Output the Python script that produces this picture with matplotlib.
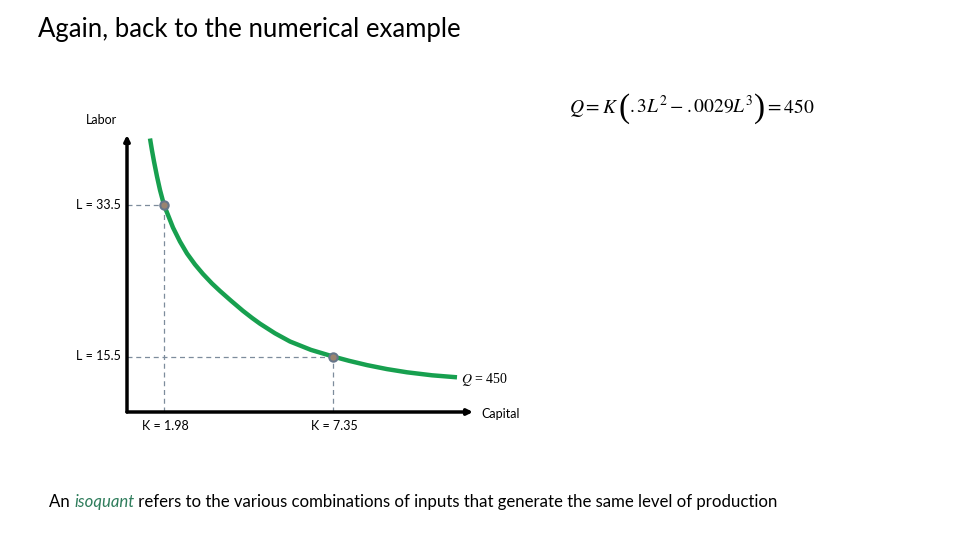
import matplotlib
matplotlib.use("Agg")
import matplotlib.pyplot as plt

plt.rcParams["mathtext.fontset"] = "stix"

# schematic isoquant Q = 450 (axis units ~ pixels from origin)
curve_x = [23, 25, 27, 30, 33, 37, 41, 46, 53, 60, 68, 76, 85, 93, 104, 116,
           125, 133, 148, 163, 184, 206, 222, 240, 260, 280, 305, 330]
curve_y = [273.5, 261.5, 250.5, 235.5, 222, 207, 197, 184.4, 170.4, 158.5, 147.5, 138,
           128.5, 121, 111.3, 101.1, 94.1, 88.3, 78.7, 70.5, 62.1, 55.5, 51.2, 46.9,
           42.9, 39.7, 36.7, 34.7]

# the two highlighted combinations
point_x = [37, 206]
point_y = [207, 55.5]
labor_labels = ["L = 33.5", "L = 15.5"]
capital_labels = ["K = 1.98", "K = 7.35"]

green = "#17a04f"
dash_col = "#7d8c9c"
label_font = "Lato"

fig = plt.figure(figsize=(9.6, 5.4), dpi=100)
ax = fig.add_axes([127 / 960, 128 / 540, 346 / 960, 277 / 540])
ax.set_xlim(0, 346)
ax.set_ylim(0, 277)
ax.axis("off")

# axes with arrow heads
ax.annotate("", xy=(346, 0), xytext=(0, 0), annotation_clip=False,
            arrowprops=dict(arrowstyle="-|>", lw=2.5, color="black",
                            mutation_scale=8, shrinkA=0, shrinkB=0))
ax.annotate("", xy=(0, 277), xytext=(0, 0), annotation_clip=False,
            arrowprops=dict(arrowstyle="-|>", lw=2.5, color="black",
                            mutation_scale=8, shrinkA=0, shrinkB=0))

# dashed guides
for px, py in zip(point_x, point_y):
    ax.plot([0, px], [py, py], ls=(0, (4, 3)), color=dash_col, lw=0.9)
    ax.plot([px, px], [0, py], ls=(0, (4, 3)), color=dash_col, lw=0.9)

ax.plot(curve_x, curve_y, color=green, lw=3.2, solid_capstyle="butt",
        solid_joinstyle="round")
ax.plot(point_x, point_y, "o", ms=6, mfc="#9a8470", mec="#66768a", mew=1.5, zorder=5)

for py, lab in zip(point_y, labor_labels):
    ax.text(-6, py, lab, ha="right", va="center", fontsize=9, family=label_font)
for px, lab in zip(point_x, capital_labels):
    ax.text(px + 1, -14, lab, ha="center", va="center", fontsize=9, family=label_font)

ax.text(-41, 292, "Labor", ha="left", va="center", fontsize=9, family=label_font)
ax.text(354, -2, "Capital", ha="left", va="center", fontsize=9, family=label_font)
ax.text(334, 33, r"$Q$ = 450", ha="left", va="center", fontsize=10,
        family="Liberation Serif")

renderer = fig.canvas.get_renderer()

# production function, with tall parentheses
eq_parts = [(r"$Q = K\,$", 14, 0), ("(", 24, 4), (r"$.3L^2 - .0029L^3$", 14, 0),
            (")", 24, 4), (r"$=450$", 14, 0)]
x = 569
for txt, fs, drop in eq_parts:
    t = fig.text(x / 960, 1 - (113 + drop) / 540, txt, ha="left", va="baseline",
                 fontsize=fs, family="Liberation Serif")
    x += t.get_window_extent(renderer=renderer).width

fig.text(38 / 960, 1 - 30 / 540, "Again, back to the numerical example",
         ha="left", va="center", fontsize=18.5, family=label_font)

# bottom sentence with italic green word
parts = [("An ", "normal", "black"), ("isoquant", "italic", "#2f7d5c"),
         (" refers to the various combinations of inputs that generate the same level of production",
          "normal", "black")]
x = 49
for txt, style, col in parts:
    t = fig.text(x / 960, 1 - 502 / 540, txt, ha="left", va="center", fontsize=12.1,
                 family=label_font, style=style, color=col)
    x += t.get_window_extent(renderer=renderer).width

fig.savefig("out.png", dpi=100)
